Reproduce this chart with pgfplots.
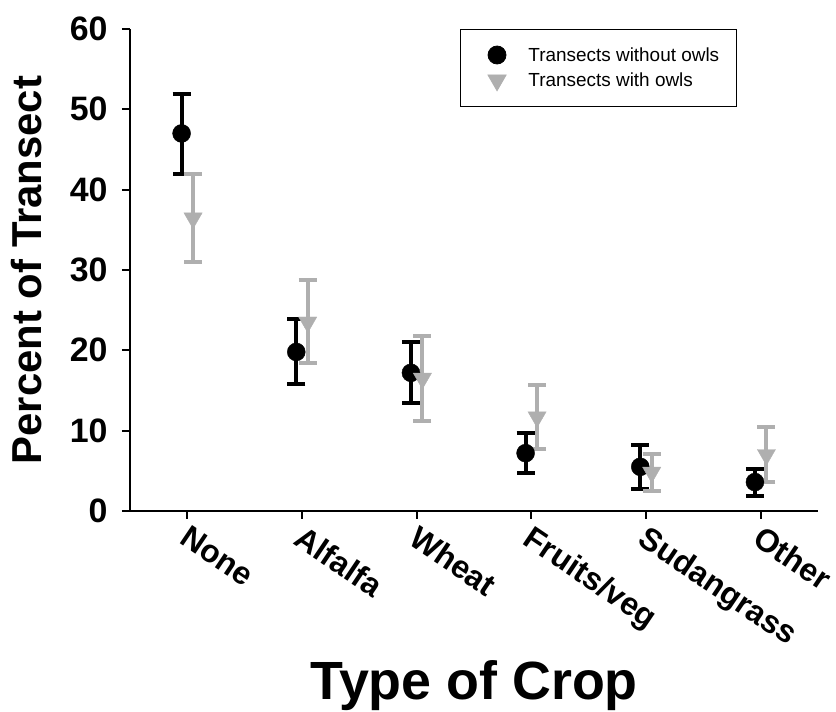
\documentclass[border=0pt]{standalone}
\usepackage{fontspec}
\setmainfont{Liberation Sans}
\usepackage{pgfplots}
\pgfplotsset{compat=1.18}
\definecolor{owlgray}{RGB}{175,175,175}

\begin{document}
\begin{tikzpicture}
\begin{axis}[
  name=ax,
  scale only axis,
  width=688bp, height=482bp,
  xmin=-0.5, xmax=5.5,
  ymin=0, ymax=60,
  clip=false,
  axis lines*=left,
  axis line style={line width=2bp, black},
  every tick/.style={line width=2bp, black},
  tick align=outside,
  major tick length=8bp,
  xtick={0,...,5},
  xticklabels={None,Alfalfa,Wheat,Fruits/veg,Sudangrass,Other},
  ytick={0,10,...,60},
  /pgf/number format/assume math mode=true,
  yticklabel style={font=\fontsize{34}{38}\selectfont\bfseries, xshift=-11bp},
  xticklabel style={font=\fontsize{32}{36}\selectfont\bfseries, xshift=3bp, yshift=-4bp, rotate=-34, anchor=north west, inner sep=1bp},
  xlabel={Type of Crop},
  ylabel={Percent of Transect},
  every axis x label/.style={at={(rel axis cs:0.5,0)}, anchor=base, yshift=-188bp,
    font=\fontsize{54}{60}\selectfont\bfseries},
  every axis y label/.style={at={(rel axis cs:0,0.5)}, xshift=-103bp, rotate=90, anchor=center,
    font=\fontsize{42}{46}\selectfont\bfseries},
  legend style={at={(0.48,1)}, anchor=north west, draw=black, line width=0.8bp,
    font=\fontsize{19}{22}\selectfont, inner xsep=15bp, inner ysep=16bp,
    nodes={inner sep=2bp}, column sep=20bp, row sep=6bp},
  legend cell align=left,
  legend image code/.code={\path (0bp,0bp) (30bp,0bp); \draw[#1] plot coordinates {(21bp,0bp)};},
]
% transects without owls
\addplot[only marks, mark=*, mark size=9bp, black,
  error bars/.cd, y dir=both, y explicit,
  error bar style={line width=4bp, black},
  error mark options={rotate=90, line width=4bp, mark size=9bp, black}]
  coordinates {
  (-0.05,47.0) += (0,4.9) -= (0,5.0)
  (0.95,19.8) += (0,4.1) -= (0,4.0)
  (1.95,17.2) += (0,3.8) -= (0,3.8)
  (2.95,7.2) += (0,2.5) -= (0,2.5)
  (3.95,5.5) += (0,2.7) -= (0,2.8)
  (4.95,3.6) += (0,1.6) -= (0,1.7)
};
\addlegendentry{Transects without owls}
% transects with owls
\addplot[only marks, mark=triangle*, mark size=10.5bp, mark options={rotate=180, owlgray}, owlgray,
  error bars/.cd, y dir=both, y explicit,
  error bar style={line width=4bp, owlgray},
  error mark options={rotate=90, line width=4bp, mark size=9bp, owlgray}]
  coordinates {
  (0.05,36.45) += (0,5.45) -= (0,5.45)
  (1.05,23.5) += (0,5.2) -= (0,5.1)
  (2.05,16.5) += (0,5.3) -= (0,5.3)
  (3.05,11.7) += (0,4.0) -= (0,4.0)
  (4.05,4.8) += (0,2.3) -= (0,2.3)
  (5.05,7.0) += (0,3.4) -= (0,3.4)
};
\addlegendentry{Transects with owls}
\end{axis}
\pgfresetboundingbox
\path ([xshift=-130bp,yshift=-201bp]ax.south west) rectangle ([xshift=18bp,yshift=29bp]ax.north east);
\end{tikzpicture}
\end{document}
